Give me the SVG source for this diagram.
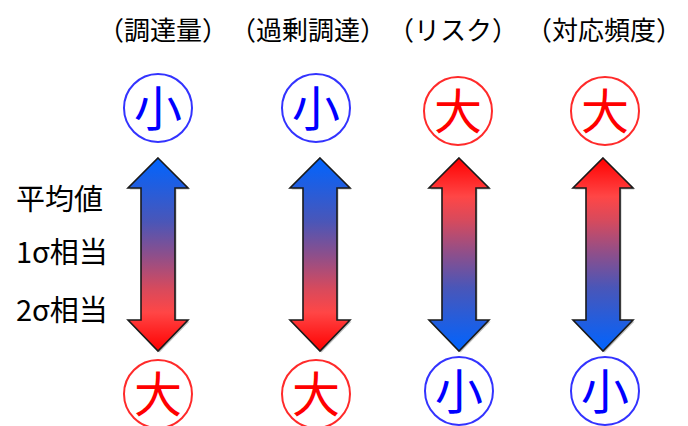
<svg xmlns="http://www.w3.org/2000/svg" width="688" height="426" viewBox="0 0 688 426">
<style>
text{font-family:"Noto Sans CJK JP","Noto Sans CJK SC",sans-serif;fill:#000}
.hdr{font-size:26px;text-anchor:middle}
.lbl{font-size:29px}
.sym{font-size:48px;text-anchor:middle}
.b{fill:#0000ff}.r{fill:#ff0000}
.cb{fill:#fff;stroke:#3333ff;stroke-width:2}
.cr{fill:#fff;stroke:#ff2a2a;stroke-width:2}
.arr{stroke:#1a1a1a;stroke-width:1.6;stroke-linejoin:miter}
.sh{fill:#000;opacity:0.25}
</style>
<defs>
<linearGradient id="br" x1="0" y1="0" x2="0" y2="1">
<stop offset="0" stop-color="#0064ff"/>
<stop offset="0.33" stop-color="#4a56b8"/>
<stop offset="0.5" stop-color="#8c4f8c"/>
<stop offset="0.68" stop-color="#d84a5c"/>
<stop offset="0.8" stop-color="#ff4646"/>
<stop offset="1" stop-color="#ff0000"/>
</linearGradient>
<linearGradient id="rb" x1="0" y1="1" x2="0" y2="0">
<stop offset="0" stop-color="#0064ff"/>
<stop offset="0.33" stop-color="#4a56b8"/>
<stop offset="0.5" stop-color="#8c4f8c"/>
<stop offset="0.68" stop-color="#d84a5c"/>
<stop offset="0.8" stop-color="#ff4646"/>
<stop offset="1" stop-color="#ff0000"/>
</linearGradient>
<path id="dbl" d="M0,158 L30,188 L17,188 L17,320 L30,320 L0,351 L-30,320 L-17,320 L-17,188 L-30,188 Z"/>
</defs>

<g id="headers">
<text class="hdr" x="163" y="40">（調達量）</text>
<text class="hdr" x="308" y="40">（過剰調達）</text>
<text class="hdr" x="453" y="40">（リスク）</text>
<text class="hdr" x="604" y="40">（対応頻度）</text>
</g>

<g id="labels">
<text class="lbl" x="16" y="210">平均値</text>
<text class="lbl" x="16" y="263">1σ相当</text>
<text class="lbl" x="16" y="321">2σ相当</text>
</g>

<g id="connectors">
<use href="#dbl" x="159.5" y="1.5" class="sh"/>
<use href="#dbl" x="158" fill="url(#br)" class="arr"/>
<use href="#dbl" x="321.5" y="1.5" class="sh"/>
<use href="#dbl" x="320" fill="url(#br)" class="arr"/>
<use href="#dbl" x="460.5" y="1.5" class="sh"/>
<use href="#dbl" x="459" fill="url(#rb)" class="arr"/>
<use href="#dbl" x="604.5" y="1.5" class="sh"/>
<use href="#dbl" x="603" fill="url(#rb)" class="arr"/>
</g>

<g id="top1"><circle class="cb" cx="158" cy="108" r="34"/><text class="sym b" x="158" y="126">小</text></g>
<g id="top2"><circle class="cb" cx="316" cy="108" r="34"/><text class="sym b" x="316" y="126">小</text></g>
<g id="top3"><circle class="cr" cx="458" cy="111" r="34"/><text class="sym r" x="458" y="129">大</text></g>
<g id="top4"><circle class="cr" cx="605" cy="111" r="34"/><text class="sym r" x="605" y="129">大</text></g>

<g id="bot1"><circle class="cr" cx="158" cy="394" r="34"/><text class="sym r" x="158" y="412">大</text></g>
<g id="bot2"><circle class="cr" cx="316" cy="394" r="34"/><text class="sym r" x="316" y="412">大</text></g>
<g id="bot3"><circle class="cb" cx="459" cy="391" r="34"/><text class="sym b" x="459" y="409">小</text></g>
<g id="bot4"><circle class="cb" cx="605" cy="391" r="34"/><text class="sym b" x="605" y="409">小</text></g>
</svg>
